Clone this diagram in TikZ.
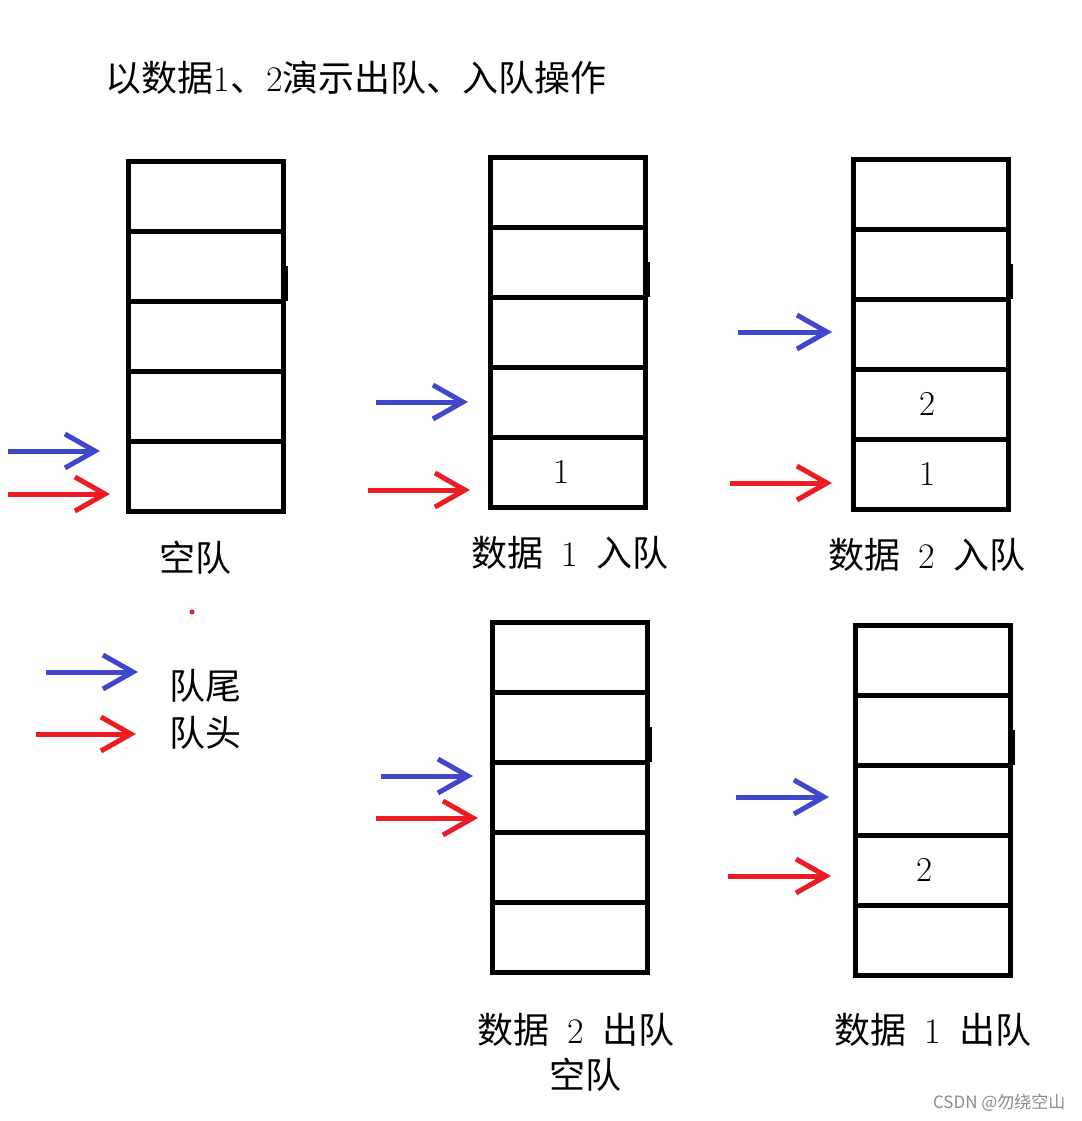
\documentclass[tikz,border=0pt]{standalone}
\usepackage{fontspec}
\newfontfamily\cjk{Noto Sans CJK SC}
\usepackage{tikz}
\usetikzlibrary{positioning,arrows.meta}
\usepackage{xcolor}
\definecolor{qblue}{HTML}{3F48CC}
\definecolor{qred}{HTML}{ED1C24}
\newcommand\steplabel[3]{{\cjk #1}\hspace{0.5em}#2\hspace{0.5em}{\cjk #3}}

\begin{document}
\begin{tikzpicture}[x=1pt,y=-1pt,
  cell/.style={draw,line width=5pt,minimum width=155pt,minimum height=70pt,inner sep=0pt,font=\fontsize{35}{35}\selectfont},
  lbl/.style={font=\fontsize{36}{40}\selectfont\cjk},
  steptext/.style={font=\fontsize{36}{40}\selectfont},
  tailarr/.style={draw=qblue,line width=5pt,-{Straight Barb[length=30pt,width=34pt]}},
  headarr/.style={draw=qred,line width=5pt,-{Straight Barb[length=30pt,width=34pt]}}]
\useasboundingbox (0,0) rectangle (1081,1121);
\node[lbl,anchor=west] (title) at (102,78) {以数据{\rmfamily 1}、{\rmfamily 2}演示出队、入队操作};
% the five queues
\foreach \s/\x/\y in {a/205.5/196,b/567.5/192,c/930.5/194,d/569.5/657,e/933/660}{
  \foreach \k in {1,...,5}
    \node[cell] (\s\k) at (\x,\y+70*\k-70) {};
  \fill ([xshift=-5pt]\s2.east) rectangle ([xshift=2pt,yshift=-35pt]\s2.east);
}
\node[font=\fontsize{35}{35}\selectfont] (v1) at ([xshift=-6pt]b5.center) {1};
\node[font=\fontsize{35}{35}\selectfont] (v2) at ([xshift=-3pt]c4.center) {2};
\node[font=\fontsize{35}{35}\selectfont] (v3) at ([xshift=-3pt]c5.center) {1};
\node[font=\fontsize{35}{35}\selectfont] (v4) at ([xshift=-8pt]e4.center) {2};
% tail and head pointers
\foreach \x/\X/\y/\st in {8/100/451/tailarr,8/110/494/headarr,
    376/468/402/tailarr,368/470/490/headarr,
    738/832/332/tailarr,730/832/483/headarr,
    381/473/776/tailarr,376/478/818/headarr,
    736/829/797/tailarr,728/831/876/headarr,
    46/138/672/tailarr,36/136/734/headarr}
  \draw[\st] (\x,\y) -- (\X,\y);
% captions
\node[lbl] (capa) at (195,558) {空队};
\node[steptext] (capb) at (570,553) {\steplabel{数据}{1}{入队}};
\node[steptext] (capc) at (927,555) {\steplabel{数据}{2}{入队}};
\node[steptext] (capd) at (576,1030) {\steplabel{数据}{2}{出队}};
\node[lbl] (capd2) at (585,1075) {空队};
\node[steptext] (cape) at (933,1030) {\steplabel{数据}{1}{出队}};
\fill[qred] (192,612) circle (2.5pt);
% legend
\node[lbl,anchor=west] (ltail) at (166,686) {队尾};
\node[lbl,anchor=west] (lhead) at (166,733) {队头};
\node[font=\fontsize{17}{17}\selectfont\cjk,text=black!45,anchor=east] (mark) at (1069,1103) {CSDN @勿绕空山};
\end{tikzpicture}
\end{document}
